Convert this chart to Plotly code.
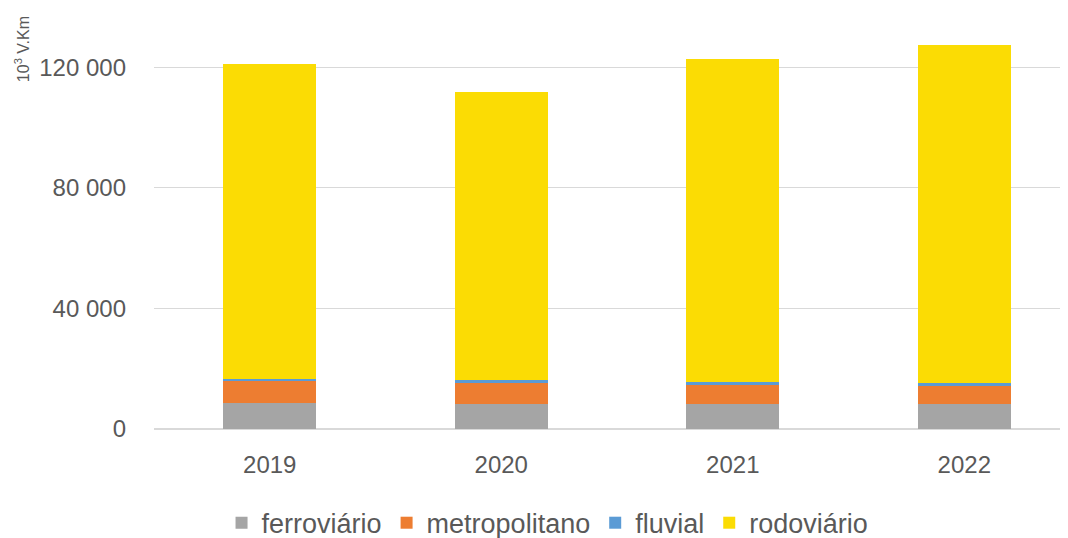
import plotly.graph_objects as go

years = ["2019", "2020", "2021", "2022"]
ferroviario = [8700, 8400, 8400, 8400]
metropolitano = [7100, 6950, 6300, 5950]
fluvial = [850, 800, 900, 900]
rodoviario = [104350, 95450, 106950, 112050]

series = [
    ("ferroviário", ferroviario, "#a5a5a5"),
    ("metropolitano", metropolitano, "#ed7d31"),
    ("fluvial", fluvial, "#5b9bd5"),
    ("rodoviário", rodoviario, "#fbdc04"),
]

font_family = "Liberation Sans, Arial, sans-serif"

fig = go.Figure()
for name, vals, col in series:
    fig.add_trace(go.Bar(x=years, y=vals, name=name, marker_color=col,
                         marker_line_width=0))

# page body has an 8px margin; figure sized so it fits the 1068x538 window
fig.update_layout(
    width=1060, height=530,
    barmode="stack", bargap=0.6,
    separators=", ",
    plot_bgcolor="white", paper_bgcolor="white",
    margin=dict(l=146, r=0, t=29, b=109),
    font=dict(family=font_family, color="#595959"),
    showlegend=True,
    legend=dict(orientation="h", xref="container", yref="container",
                x=0.509, xanchor="center", y=0.028, yanchor="middle",
                font=dict(size=27, color="#595959"), traceorder="normal",
                itemwidth=30),
    xaxis=dict(type="category", range=[-0.5, 3.448], showgrid=False,
               tickfont=dict(size=24, color="#595959"), ticks="",
               showline=False, ticklabelstandoff=19),
    yaxis=dict(range=[0, 130000], dtick=40000, tickformat=",d",
               gridcolor="#d9d9d9", gridwidth=1, zeroline=True,
               zerolinecolor="#d9d9d9", zerolinewidth=2,
               tickfont=dict(size=24, color="#595959"), ticks="",
               ticklabelstandoff=27),
    annotations=[dict(text="10<sup>3</sup> V.Km", xref="paper", yref="paper",
                      x=-0.1444, y=0.969, xanchor="center", yanchor="middle",
                      textangle=-90, showarrow=False,
                      font=dict(size=16, color="#595959"))],
)

fig.write_html("out.html")
